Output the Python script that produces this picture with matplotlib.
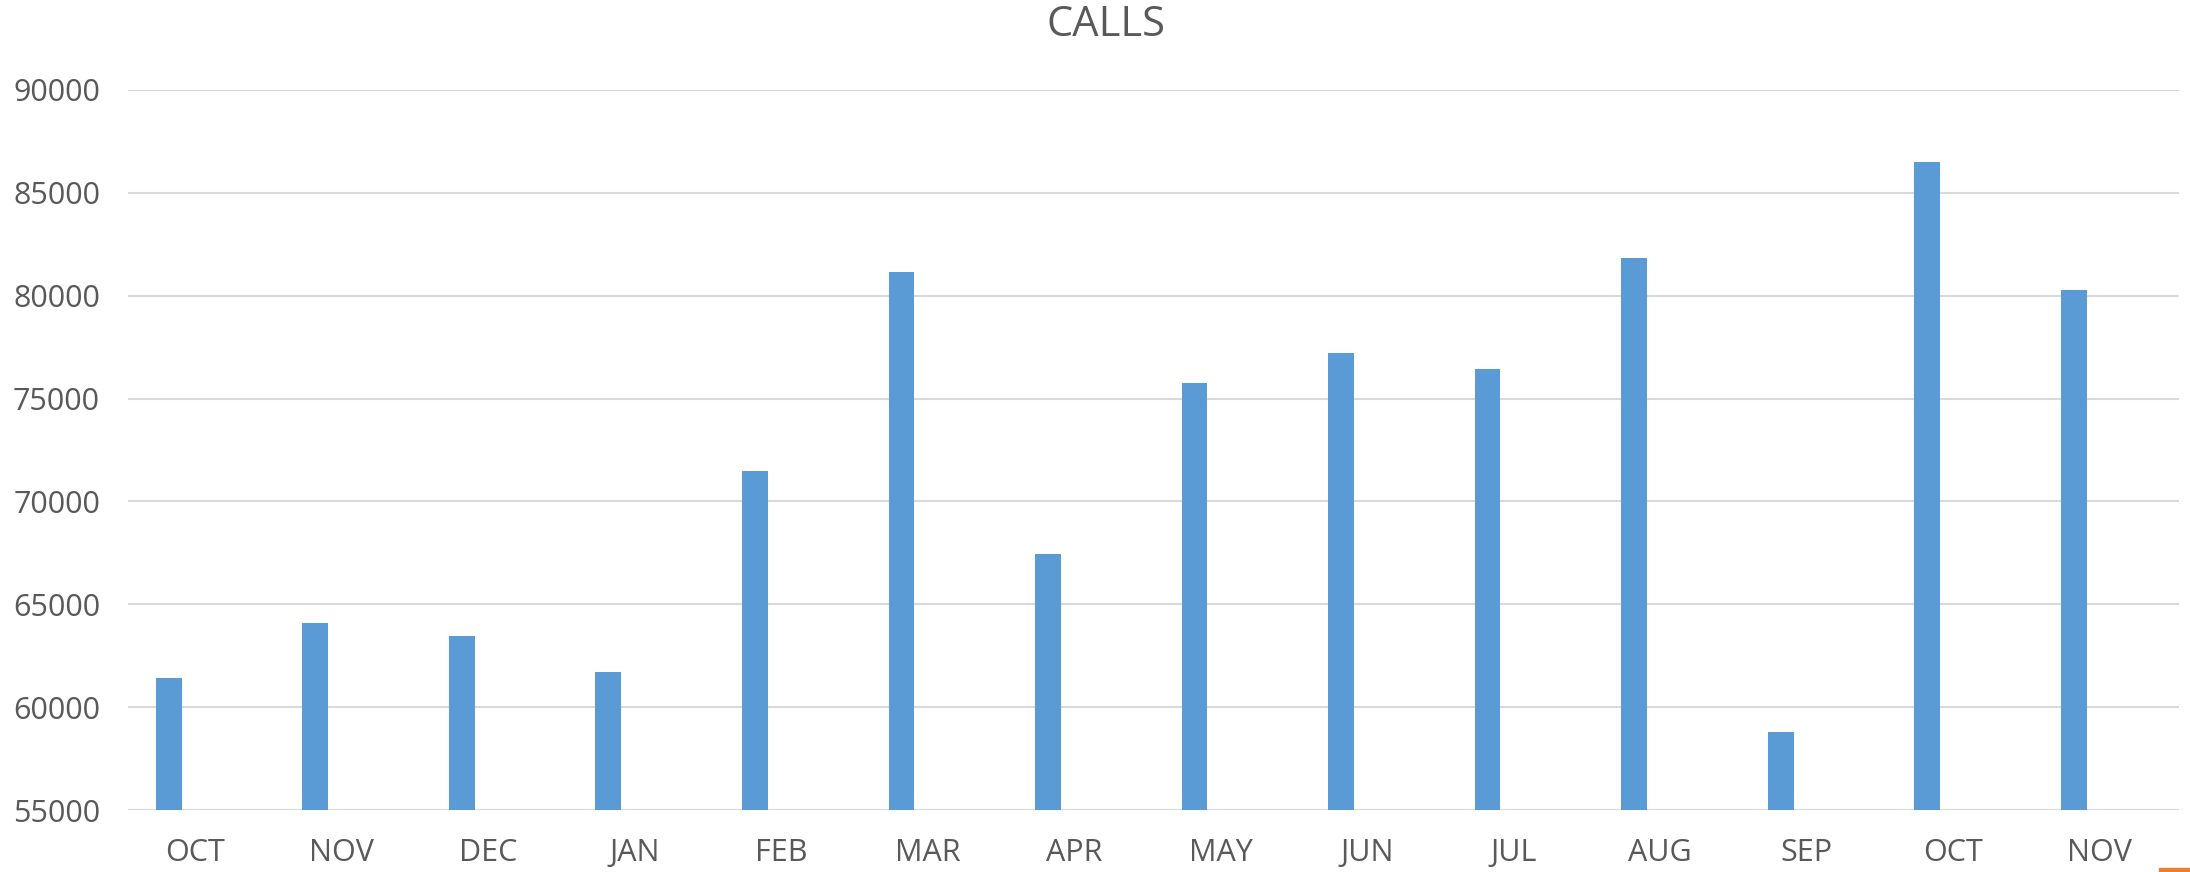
import numpy as np
import matplotlib.pyplot as plt
import matplotlib.transforms as mtransforms
from matplotlib.patches import Rectangle

months = ['OCT', 'NOV', 'DEC', 'JAN', 'FEB', 'MAR', 'APR', 'MAY',
          'JUN', 'JUL', 'AUG', 'SEP', 'OCT', 'NOV']
calls = [61420, 64100, 63440, 61710, 71490, 81130, 67420, 75770,
         77200, 76450, 81810, 58800, 86500, 80290]
yticks = [55000, 60000, 65000, 70000, 75000, 80000, 85000, 90000]

plt.rcParams['font.family'] = ['Open Sans', 'DejaVu Sans']
grey = '#595959'

fig = plt.figure(figsize=(21.9, 8.72), dpi=100)
ax = fig.add_axes([0.0584, 0.0711, 0.9366, 0.8257])

x = np.arange(len(months))
ax.bar(x - 0.22, calls, width=0.177, color='#5b9bd5', zorder=3)

ax.set_xlim(-0.5, len(months) - 0.5)
ax.set_ylim(55000, 90000)
ax.set_yticks(yticks)
ax.set_xticks(x)
ax.set_xticklabels(months)
ax.tick_params(axis='both', length=0, labelsize=22, labelcolor=grey)
ax.tick_params(axis='x', pad=20)
ax.tick_params(axis='y', pad=20)
ax.grid(axis='y', color='#d9d9d9', linewidth=1.5, zorder=0)
for s in ax.spines.values():
    s.set_visible(False)

# month labels sit a little left of the category centre
shift = mtransforms.ScaledTranslation(-6 / 100, 0, fig.dpi_scale_trans)
for lab in ax.get_xticklabels():
    lab.set_transform(lab.get_transform() + shift)

fig.suptitle('CALLS', x=0.505, y=0.995, fontsize=30, color=grey)

# tiny orange legend fragment at bottom right corner
fig.add_artist(Rectangle((0.9858, 0.0), 0.0142, 0.005, transform=fig.transFigure,
                         color='#ed7d31'))

fig.savefig('out.png', dpi=100)
